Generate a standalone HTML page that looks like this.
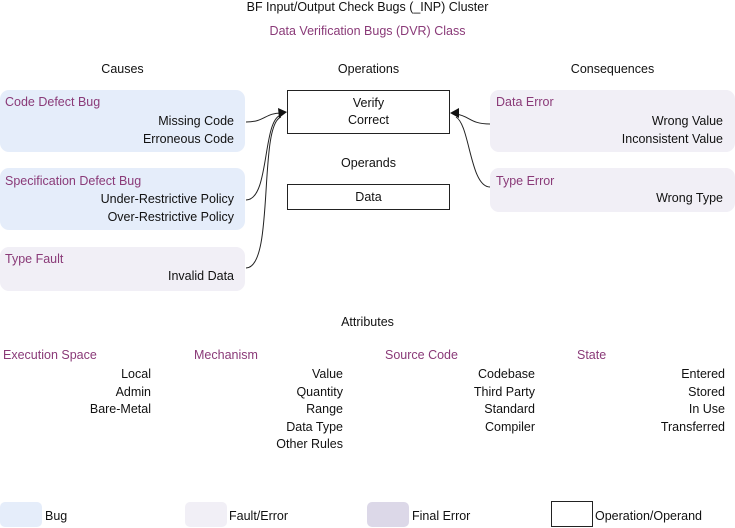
<!DOCTYPE html>
<html><head><style>
body{margin:0;width:735px;height:528px;position:relative;background:#fff;font-family:"Liberation Sans",sans-serif;font-size:12.5px;color:#111;overflow:hidden}
.a{position:absolute;white-space:nowrap}
.p{color:#8a3a78}
.box{position:absolute;border-radius:9px}
.b{background:#e5edfa}.f{background:#f1eff6}.fe{background:#dcd8e8}
.r{text-align:right}
.c{text-align:center}
</style></head><body>
<div class="a c" style="left:0;width:735px;top:0">BF Input/Output Check Bugs (_INP) Cluster</div>
<div class="a c p" style="left:0;width:735px;top:24px">Data Verification Bugs (DVR) Class</div>
<div class="a c" style="left:0;width:245px;top:62px">Causes</div>
<div class="a c" style="left:287px;width:163px;top:62px">Operations</div>
<div class="a c" style="left:490px;width:245px;top:62px">Consequences</div>

<div class="box b" style="left:0;top:90px;width:245px;height:62px"></div>
<div class="a p" style="left:5px;top:95px">Code Defect Bug</div>
<div class="a r" style="right:501px;top:113px;line-height:17.5px">Missing Code<br>Erroneous Code</div>

<div class="box b" style="left:0;top:168px;width:245px;height:62px"></div>
<div class="a p" style="left:5px;top:174px">Specification Defect Bug</div>
<div class="a r" style="right:501px;top:191px;line-height:17.5px">Under-Restrictive Policy<br>Over-Restrictive Policy</div>

<div class="box f" style="left:0;top:247px;width:245px;height:44px"></div>
<div class="a p" style="left:5px;top:252px">Type Fault</div>
<div class="a r" style="right:501px;top:269px">Invalid Data</div>

<div class="a c" style="left:287px;top:90px;width:163px;border:1px solid #222;line-height:17px;padding-top:4px;box-sizing:border-box;height:44px">Verify<br>Correct</div>
<div class="a c" style="left:287px;width:163px;top:156px">Operands</div>
<div class="a c" style="left:287px;top:184px;width:163px;height:26px;border:1px solid #222;box-sizing:border-box;line-height:24px">Data</div>

<div class="box f" style="left:490px;top:90px;width:245px;height:62px"></div>
<div class="a p" style="left:496px;top:95px">Data Error</div>
<div class="a r" style="right:12px;top:113px;line-height:17.5px">Wrong Value<br>Inconsistent Value</div>
<div class="box f" style="left:490px;top:168px;width:245px;height:44px"></div>
<div class="a p" style="left:496px;top:174px">Type Error</div>
<div class="a r" style="right:12px;top:191px">Wrong Type</div>

<svg class="a" style="left:0;top:0" width="735" height="528">
<g fill="none" stroke="#222" stroke-width="1">
<path d="M246 122 C265 122,265 113,281 113"/>
<path d="M246 200 C270 200,262 120,281 115"/>
<path d="M246 268 C275 268,258 125,281 117"/>
<path d="M490 124 C470 124,470 116,456 114"/>
<path d="M490 187 C470 187,470 125,456 117"/>
</g>
<polygon points="287,112 278,108 279,118" fill="#111"/>
<polygon points="450,113 459,108 459,118" fill="#111"/>
</svg>

<div class="a c" style="left:0;width:735px;top:315px">Attributes</div>
<div class="a p" style="left:3px;top:348px">Execution Space</div>
<div class="a r" style="right:584px;top:366px;line-height:17.5px">Local<br>Admin<br>Bare-Metal</div>
<div class="a p" style="left:194px;top:348px">Mechanism</div>
<div class="a r" style="right:392px;top:366px;line-height:17.5px">Value<br>Quantity<br>Range<br>Data Type<br>Other Rules</div>
<div class="a p" style="left:385px;top:348px">Source Code</div>
<div class="a r" style="right:200px;top:366px;line-height:17.5px">Codebase<br>Third Party<br>Standard<br>Compiler</div>
<div class="a p" style="left:577px;top:348px">State</div>
<div class="a r" style="right:10px;top:366px;line-height:17.5px">Entered<br>Stored<br>In Use<br>Transferred</div>

<div class="box b" style="left:0;top:502px;width:42px;height:25px;border-radius:5px"></div>
<div class="a" style="left:45px;top:509px">Bug</div>
<div class="box f" style="left:185px;top:502px;width:42px;height:25px;border-radius:5px"></div>
<div class="a" style="left:229px;top:509px">Fault/Error</div>
<div class="box fe" style="left:367px;top:502px;width:42px;height:25px;border-radius:5px"></div>
<div class="a" style="left:412px;top:509px">Final Error</div>
<div class="a" style="left:551px;top:501px;width:42px;height:26px;border:1px solid #222;box-sizing:border-box"></div>
<div class="a" style="left:595px;top:509px">Operation/Operand</div>
</body></html>
